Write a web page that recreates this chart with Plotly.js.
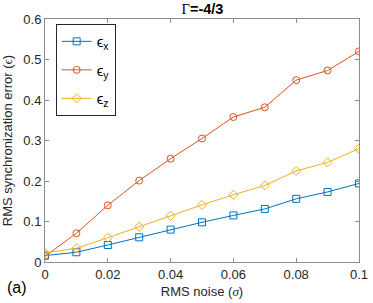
<!DOCTYPE html>
<html>
<head>
<meta charset="utf-8">
<script src="https://cdn.plot.ly/plotly-3.0.1.min.js"></script>
<style>html,body{margin:0;padding:0;background:#fff;}#chart{width:373px;height:303px;}</style>
</head>
<body>
<div id="chart"></div>
<script>
const noise = [0, 0.01, 0.02, 0.03, 0.04, 0.05, 0.06, 0.07, 0.08, 0.09, 0.1];
const errX = [0.016, 0.024, 0.042, 0.061, 0.080, 0.098, 0.115, 0.131, 0.156, 0.173, 0.194];
const errY = [0.014, 0.071, 0.140, 0.201, 0.255, 0.305, 0.358, 0.382, 0.449, 0.473, 0.520];
const errZ = [0.022, 0.034, 0.060, 0.087, 0.114, 0.141, 0.166, 0.189, 0.225, 0.246, 0.280];
const seriesNames = ['ϵ<sub>x</sub>', 'ϵ<sub>y</sub>', 'ϵ<sub>z</sub>'];
const xTicks = [0, 0.02, 0.04, 0.06, 0.08, 0.1];
const xTickText = ['0', '0.02', '0.04', '0.06', '0.08', '0.1'];
const yTicks = [0, 0.1, 0.2, 0.3, 0.4, 0.5, 0.6];
const yTickText = ['0', '0.1', '0.2', '0.3', '0.4', '0.5', '0.6'];

const colors = ['#0072BD', '#D95319', '#EDB120'];
const symbols = ['square-open', 'circle-open', 'diamond-open'];
const ys = [errX, errY, errZ];

const traces = ys.map((y, i) => ({
  x: noise, y: y, type: 'scatter', mode: 'lines+markers',
  name: seriesNames[i], legendgroup: 'g' + i,
  line: {color: colors[i], width: 1},
  marker: {symbol: symbols[i], size: 7, color: colors[i], line: {width: 1, color: colors[i]}}
}));

const font = {family: 'Liberation Sans, Arial, sans-serif', size: 13, color: '#262626'};
const axisCommon = {
  showgrid: false, zeroline: false, showline: true, linecolor: '#8c8c8c', linewidth: 1,
  mirror: 'ticks', ticks: 'inside', ticklen: 4, tickcolor: '#8c8c8c', tickwidth: 1,
  tickfont: {family: font.family, size: 13, color: '#262626'}
};

const layout = {
  width: 373, height: 303,
  margin: {l: 45, r: 14, t: 19, b: 41},
  paper_bgcolor: '#fff', plot_bgcolor: '#fff',
  font: font,
  showlegend: true,
  title: {
    text: '<span style="font-family:Liberation Serif,serif">Γ</span><b>=-4/3</b>',
    font: {family: font.family, size: 14.5, color: '#000'},
    x: 0.543, xanchor: 'center', y: 0.972, yanchor: 'middle', pad: {t: 0, b: 0}
  },
  xaxis: Object.assign({}, axisCommon, {
    range: [0, 0.1], tickvals: xTicks, ticktext: xTickText,
    title: {text: 'RMS noise (<span style="font-family:Liberation Serif,serif"><i>σ</i></span>)', font: {family: font.family, size: 13, color: '#262626'}, standoff: 6}
  }),
  yaxis: Object.assign({}, axisCommon, {
    range: [0, 0.6], tickvals: yTicks, ticktext: yTickText,
    title: {text: 'RMS synchronization error (<span style="font-family:Liberation Serif,serif">ϵ</span>)', font: {family: font.family, size: 13, color: '#262626'}, standoff: 8}
  }),
  legend: {
    x: 0.034, y: 0.979, xanchor: 'left', yanchor: 'top',
    bgcolor: '#fff', bordercolor: '#262626', borderwidth: 1,
    font: {family: font.family, size: 15, color: '#000'},
    itemwidth: 30, traceorder: 'grouped', tracegroupgap: 6
  },
  annotations: [{
    text: '(a)', xref: 'paper', yref: 'paper', x: -0.089, y: -0.103,
    xanchor: 'center', yanchor: 'middle', showarrow: false,
    font: {family: font.family, size: 16, color: '#000'}
  }]
};

Plotly.newPlot('chart', traces, layout, {displayModeBar: false, staticPlot: true});
</script>
</body>
</html>
